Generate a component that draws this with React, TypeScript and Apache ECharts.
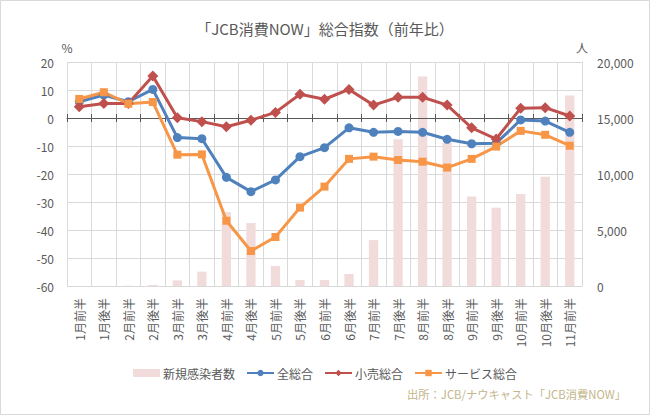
import { useEffect, useRef } from "react";
import * as echarts from "echarts";

const categories = ["1月前半","1月後半","2月前半","2月後半","3月前半","3月後半","4月前半","4月後半","5月前半","5月後半","6月前半","6月後半","7月前半","7月後半","8月前半","8月後半","9月前半","9月後半","10月前半","10月後半","11月前半"];
const newCases = [0, 10, 20, 100, 500, 1280, 6600, 5620, 1790, 540, 540, 1070, 4100, 13100, 18700, 12800, 7980, 6990, 8210, 9760, 17000];
const total = [5.8, 8.2, 5.8, 10.2, -7.0, -7.4, -21.2, -26.3, -22.1, -13.8, -10.6, -3.5, -5.1, -4.8, -5.1, -7.6, -9.2, -9.0, -0.7, -1.1, -5.1];
const retail = [4.0, 5.2, 5.2, 15.0, 0.1, -1.3, -3.1, -0.8, 2.0, 8.5, 6.7, 10.2, 4.6, 7.4, 7.4, 4.6, -3.5, -7.5, 3.5, 3.7, 0.7];
const service = [6.8, 9.2, 5.1, 5.7, -13.1, -13.0, -36.7, -47.5, -42.5, -32.0, -24.5, -14.6, -13.8, -15.0, -15.6, -17.7, -14.6, -10.2, -4.6, -6.0, -9.9];

const leftTicks = { min: -60, max: 20, interval: 10 };
const rightTicks = { min: 0, max: 20000, interval: 5000 };

const FONT = "'Noto Sans CJK JP', 'Noto Sans', sans-serif";
const TEXT = "#595959";
const GRID = "#d9d9d9";

export default function App() {
  const ref = useRef<HTMLDivElement>(null);
  useEffect(() => {
    document.body.style.margin = "0";
    const chart = echarts.init(ref.current!, null, { renderer: "svg" });
    const option: any = {
      animation: false,
      textStyle: { fontFamily: FONT, color: TEXT },
      title: {
        text: "「JCB消費NOW」総合指数（前年比）",
        left: "center",
        top: 16,
        textStyle: { fontFamily: FONT, fontSize: 15, fontWeight: "normal", color: TEXT },
      },
      grid: { left: 67, right: 68, top: 62, bottom: 129 },
      legend: {
        top: 362,
        left: "center",
        itemWidth: 27,
        itemHeight: 8,
        itemGap: 11,
        textStyle: { fontFamily: FONT, fontSize: 12, color: TEXT, padding: [0, 0, 0, -2] },
        data: [
          { name: "新規感染者数", icon: "rect" },
          { name: "全総合" },
          { name: "小売総合" },
          { name: "サービス総合" },
        ],
      },
      xAxis: [
        {
          type: "category",
          data: categories,
          boundaryGap: true,
          axisLine: { show: false, onZero: false },
          axisTick: { show: false },
          splitLine: { show: true, lineStyle: { color: GRID, width: 1 } },
          axisLabel: { rotate: 90, interval: 0, margin: 12, fontSize: 12, color: TEXT, fontFamily: FONT },
        },
        {
          type: "category",
          data: categories,
          boundaryGap: true,
          z: 2.5,
          axisLine: { show: true, onZero: true, onZeroAxisIndex: 0, lineStyle: { color: "#595959", width: 1 } },
          axisTick: { show: true, length: 4, interval: 0, lineStyle: { color: "#595959" } },
          axisLabel: { show: false },
          splitLine: { show: false },
        },
        {
          type: "category",
          data: categories,
          boundaryGap: true,
          z: 2.5,
          axisLine: { show: false, onZero: true, onZeroAxisIndex: 0 },
          axisTick: { show: true, inside: true, length: 4, interval: 0, lineStyle: { color: "#595959" } },
          axisLabel: { show: false },
          splitLine: { show: false },
        },
      ],
      yAxis: [
        {
          type: "value",
          ...leftTicks,
          name: "%",
          nameLocation: "end",
          nameGap: 9,
          nameTextStyle: { fontFamily: FONT, fontSize: 12, color: TEXT },
          axisLine: { show: false },
          axisTick: { show: false },
          splitLine: { show: true, lineStyle: { color: GRID, width: 1 } },
          axisLabel: { margin: 13, fontSize: 12, color: TEXT, fontFamily: FONT },
        },
        {
          type: "value",
          position: "right",
          ...rightTicks,
          name: "人",
          nameLocation: "end",
          nameGap: 9,
          nameTextStyle: { fontFamily: FONT, fontSize: 12, color: TEXT },
          axisLine: { show: true, lineStyle: { color: GRID } },
          axisTick: { show: false },
          splitLine: { show: false },
          axisLabel: {
            margin: 15,
            fontSize: 12,
            color: TEXT,
            fontFamily: FONT,
            formatter: (v: number) => v.toLocaleString("en-US"),
          },
        },
      ],
      series: [
        {
          name: "新規感染者数",
          type: "bar",
          xAxisIndex: 0,
          yAxisIndex: 1,
          barWidth: "38%",
          z: 2,
          itemStyle: { color: "#f2dcdb" },
          data: newCases,
        },
        {
          name: "全総合",
          type: "line",
          xAxisIndex: 0,
          yAxisIndex: 0,
          z: 3,
          symbol: "circle",
          symbolSize: 9,
          lineStyle: { width: 3, color: "#4f81bd" },
          itemStyle: { color: "#4f81bd" },
          data: total,
        },
        {
          name: "小売総合",
          type: "line",
          xAxisIndex: 0,
          yAxisIndex: 0,
          z: 3,
          symbol: "diamond",
          symbolSize: 11,
          lineStyle: { width: 3, color: "#c0504d" },
          itemStyle: { color: "#c0504d" },
          data: retail,
        },
        {
          name: "サービス総合",
          type: "line",
          xAxisIndex: 0,
          yAxisIndex: 0,
          z: 3,
          symbol: "rect",
          symbolSize: 8,
          lineStyle: { width: 3, color: "#f79646" },
          itemStyle: { color: "#f79646" },
          data: service,
        },
      ],
      graphic: [
        {
          type: "rect",
          silent: true,
          shape: { x: 0.5, y: 0.5, width: 649, height: 414 },
          style: { fill: "none", stroke: "#d9d9d9", lineWidth: 1 },
        },
        {
          type: "text",
          right: 24,
          top: 388,
          style: {
            text: "出所：JCB/ナウキャスト「JCB消費NOW」",
            fontFamily: FONT,
            fontSize: 11.3,
            fill: "#c4b58a",
          },
        },
      ],
    };
    chart.setOption(option);
    return () => chart.dispose();
  }, []);
  return (
    <div
      ref={ref}
      style={{ position: "absolute", left: 0, top: 0, width: 650, height: 415 }}
    />
  );
}
